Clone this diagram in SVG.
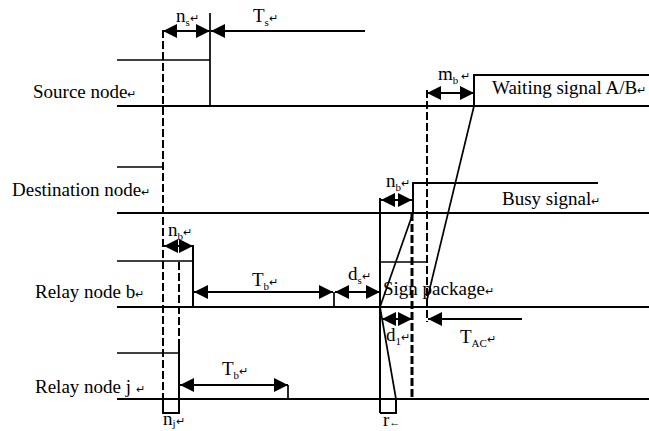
<svg xmlns="http://www.w3.org/2000/svg" width="649" height="431" viewBox="0 0 649 431">
<style>
text{font-family:"Liberation Serif","Times New Roman",serif;font-size:19px;fill:#000}
.s{font-size:11px}
.m{font-size:11px}
.base{stroke:#000;stroke-width:2;fill:none}
.thin{stroke:#000;stroke-width:1.7;fill:none}
.dash{stroke:#000;stroke-width:2;stroke-dasharray:8 3;fill:none}
.dashb{stroke:#000;stroke-width:3;stroke-dasharray:8 3;fill:none}
.arr{stroke:#000;stroke-width:2;fill:none;marker-end:url(#ah)}
.darr{stroke:#000;stroke-width:2;fill:none;marker-start:url(#ah0);marker-end:url(#ah)}
</style>
<defs>
<marker id="ah" markerUnits="userSpaceOnUse" markerWidth="15" markerHeight="14" refX="14" refY="7" orient="auto"><path d="M0,0 L14,7 L0,14 z" fill="#000"/></marker>
<marker id="ah0" markerUnits="userSpaceOnUse" markerWidth="15" markerHeight="14" refX="0" refY="7" orient="auto"><path d="M14,0 L0,7 L14,14 z" fill="#000"/></marker>
</defs>
<rect width="649" height="431" fill="#fff"/>

<g id="source-node">
<text x="33" y="98">Source node<tspan class="m">↵</tspan></text>
<line class="base" x1="117" y1="106" x2="649" y2="106"/>
<polyline class="thin" points="117,60 210,60"/>
<line class="thin" x1="210" y1="13" x2="210" y2="106"/>
<polyline class="base" points="474,106 474,75 649,75"/>
<text x="492" y="94">Waiting signal A/B<tspan class="m">↵</tspan></text>
</g>

<g id="destination-node">
<text x="12" y="196">Destination node<tspan class="m">↵</tspan></text>
<line class="base" x1="117" y1="213" x2="649" y2="213"/>
<line class="thin" x1="117" y1="167" x2="163" y2="167"/>
<polyline class="base" points="413,213 413,183 598,183"/>
<text x="502" y="205">Busy signal<tspan class="m">↵</tspan></text>
</g>

<g id="relay-node-b">
<text x="35" y="298">Relay node b<tspan class="m">↵</tspan></text>
<line class="base" x1="117" y1="307" x2="649" y2="307"/>
<polyline class="thin" points="117,261 193,261"/>
<line class="base" x1="193" y1="245" x2="193" y2="307"/>
<line class="base" x1="380" y1="198" x2="380" y2="413"/>
<line class="thin" x1="380" y1="262" x2="427" y2="262"/>
<polyline class="base" points="380,413 396,413 396,399"/>
<line class="thin" x1="334" y1="292" x2="334" y2="307"/>
<text x="383" y="295">Sign package<tspan class="m">↵</tspan></text>
</g>

<g id="relay-node-j">
<text x="35" y="393">Relay node j <tspan class="m">↵</tspan></text>
<line class="base" x1="117" y1="399" x2="649" y2="399"/>
<line class="thin" x1="117" y1="353" x2="179" y2="353"/>
<polyline class="base" points="179,343 179,413 163,413 163,399"/>
<line class="thin" x1="288" y1="385" x2="288" y2="399"/>
</g>

<g id="connectors">
<line class="dash" x1="163" y1="30" x2="163" y2="410"/>
<line class="dash" x1="179" y1="262" x2="179" y2="343"/>
<line class="dash" x1="427" y1="90" x2="427" y2="322"/>
<line class="dashb" x1="412" y1="213" x2="412" y2="399"/>
<line class="thin" x1="474" y1="106" x2="427" y2="300"/>
<line class="thin" x1="380" y1="307" x2="413" y2="213"/>
<line class="thin" x1="380" y1="307" x2="396" y2="399"/>

<line class="darr" x1="163" y1="31" x2="210" y2="31"/>
<line class="arr" x1="365" y1="31" x2="211" y2="31"/>
<line class="darr" x1="427" y1="93" x2="474" y2="93"/>
<line class="darr" x1="381" y1="200" x2="412" y2="200"/>
<line class="darr" x1="164" y1="246" x2="193" y2="246"/>
<line class="darr" x1="194" y1="292" x2="333" y2="292"/>
<line class="darr" x1="335" y1="292" x2="380" y2="292"/>
<line class="darr" x1="382" y1="319" x2="412" y2="319"/>
<line class="arr" x1="522" y1="319" x2="428" y2="319"/>
<line class="darr" x1="180" y1="385" x2="288" y2="385"/>
</g>

<g id="labels">
<text x="176" y="22">n<tspan class="s" dy="4">s</tspan><tspan class="m" dy="-4">↵</tspan></text>
<text x="253" y="22">T<tspan class="s" dy="4">s</tspan><tspan class="m" dy="-4">↵</tspan></text>
<text x="438" y="80">m<tspan class="s" dy="4">b</tspan><tspan class="m" dy="-4"> ↵</tspan></text>
<text x="386" y="187">n<tspan class="s" dy="4">b</tspan><tspan class="m" dy="-4">↵</tspan></text>
<text x="168" y="236">n<tspan class="s" dy="4">b</tspan><tspan class="m" dy="-4">↵</tspan></text>
<text x="252" y="286">T<tspan class="s" dy="4">b</tspan><tspan class="m" dy="-4">↵</tspan></text>
<text x="348" y="280">d<tspan class="s" dy="4">s</tspan><tspan class="m" dy="-4">↵</tspan></text>
<text x="386" y="341">d<tspan class="s" dy="4">1</tspan><tspan class="m" dy="-4">↵</tspan></text>
<text x="460" y="343">T<tspan class="s" dy="4">AC</tspan><tspan class="m" dy="-4">↵</tspan></text>
<text x="222" y="375">T<tspan class="s" dy="4">b</tspan><tspan class="m" dy="-4">↵</tspan></text>
<text x="163" y="425">n<tspan class="s" dy="2">j</tspan><tspan class="m" dy="-2">↵</tspan></text>
<text x="383" y="426">r<tspan class="m">←</tspan></text>
</g>
</svg>
